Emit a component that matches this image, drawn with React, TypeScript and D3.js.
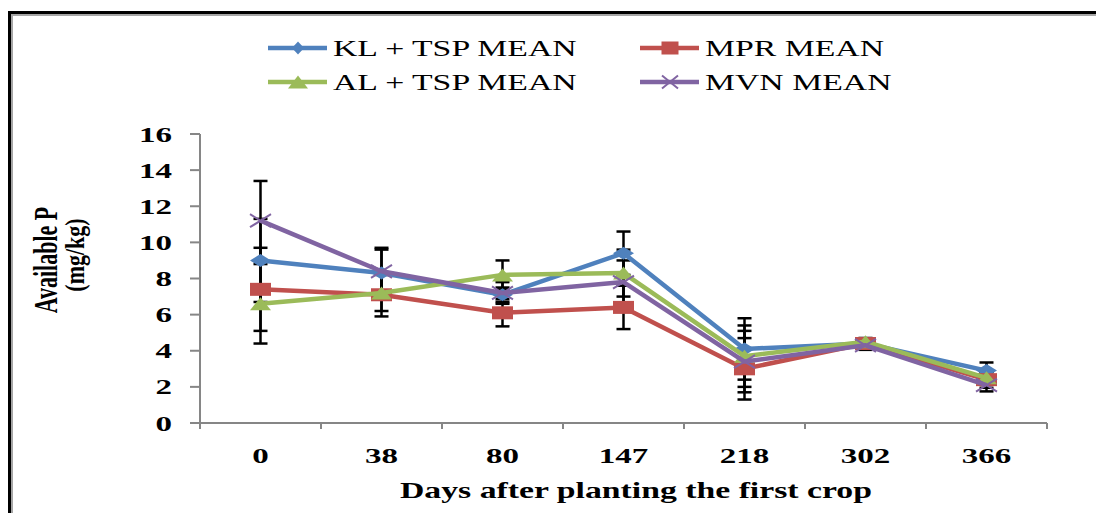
import React from "react";
import * as d3 from "d3";

// Days after planting (category axis)
const DAYS = ["0", "38", "80", "147", "218", "302", "366"];

// Available P means (mg/kg)
const KL_TSP = [9.0, 8.3, 7.1, 9.4, 4.1, 4.4, 2.9];
const MPR = [7.4, 7.1, 6.1, 6.4, 3.0, 4.4, 2.4];
const AL_TSP = [6.6, 7.2, 8.2, 8.3, 3.7, 4.5, 2.5];
const MVN = [11.2, 8.4, 7.2, 7.8, 3.4, 4.3, 2.1];

// Error-bar half widths (mg/kg)
const KL_TSP_ERR = [2.3, 1.3, 0.4, 1.2, 1.7, 0.2, 0.45];
const MPR_ERR = [2.3, 1.2, 0.75, 1.2, 1.7, 0.3, 0.45];
const AL_TSP_ERR = [2.2, 1.0, 0.8, 1.3, 1.7, 0.2, 0.3];
const MVN_ERR = [2.2, 1.3, 0.6, 1.2, 1.7, 0.25, 0.35];

const Y_TICKS = [0, 2, 4, 6, 8, 10, 12, 14, 16];

const SERIES_NAMES = ["KL + TSP MEAN", "MPR MEAN", "AL + TSP MEAN", "MVN MEAN"];

type Shape = "diamond" | "square" | "triangle" | "cross";

const series = [
  { name: SERIES_NAMES[0], values: KL_TSP, err: KL_TSP_ERR, color: "#4F81BD", shape: "diamond" as Shape },
  { name: SERIES_NAMES[1], values: MPR, err: MPR_ERR, color: "#C0504D", shape: "square" as Shape },
  { name: SERIES_NAMES[2], values: AL_TSP, err: AL_TSP_ERR, color: "#9BBB59", shape: "triangle" as Shape },
  { name: SERIES_NAMES[3], values: MVN, err: MVN_ERR, color: "#8064A2", shape: "cross" as Shape },
];

const W = 1096;
const H = 513;
const FONT = "'Liberation Serif', 'Times New Roman', serif";
const SX = 1.5; // horizontal stretch applied to text
const AXIS = "#868686";

const x = d3.scaleBand<string>().domain(DAYS).range([200, 1047]).padding(0);
const y = d3.scaleLinear().domain([0, 16]).range([423, 134]);

function Marker({ shape, cx, cy, w, h, color }: { shape: Shape; cx: number; cy: number; w: number; h: number; color: string }) {
  const hw = w / 2;
  const hh = h / 2;
  if (shape === "diamond") {
    return <path d={`M${cx - hw},${cy}L${cx},${cy - hh}L${cx + hw},${cy}L${cx},${cy + hh}Z`} fill={color} />;
  }
  if (shape === "square") {
    return <rect x={cx - hw} y={cy - hh} width={w} height={h} fill={color} />;
  }
  if (shape === "triangle") {
    return <path d={`M${cx - hw},${cy + hh}L${cx},${cy - hh}L${cx + hw},${cy + hh}Z`} fill={color} />;
  }
  return (
    <path
      d={`M${cx - hw},${cy - hh}L${cx + hw},${cy + hh}M${cx - hw},${cy + hh}L${cx + hw},${cy - hh}`}
      stroke={color}
      strokeWidth={2}
      fill="none"
    />
  );
}

function SText({ x0, y0, anchor = "start", size, weight = "normal", rotate = 0, sx = SX, children }: any) {
  return (
    <text
      transform={`translate(${x0},${y0}) scale(${sx},1)${rotate ? ` rotate(${rotate})` : ""}`}
      textAnchor={anchor}
      fontFamily={FONT}
      fontSize={size}
      fontWeight={weight}
      fill="#000"
    >
      {children}
    </text>
  );
}

export default function App() {
  const cx = (d: string) => (x(d) as number) + x.bandwidth() / 2;
  const line = d3
    .line<number>()
    .x((_, i) => cx(DAYS[i]))
    .y((v) => y(v));

  const xTickPos = DAYS.map((d) => x(d) as number).concat([x.range()[1]]);

  const legendRows = [
    { s: series[0], lx: 268, ty: 48 },
    { s: series[1], lx: 640, ty: 48 },
    { s: series[2], lx: 268, ty: 82 },
    { s: series[3], lx: 640, ty: 82 },
  ];

  return (
    <svg width={W} height={H} style={{ position: "absolute", left: 0, top: 0, background: "#fff" }}>
      {/* frame */}
      <rect x={9.5} y={12.5} width={1200} height={600} fill="none" stroke="#000" strokeWidth={3} />
      <rect x={12} y={15} width={1200} height={600} fill="none" stroke="#a6a6a6" strokeWidth={2} />

      {/* legend */}
      {legendRows.map(({ s, lx, ty }) => (
        <g key={s.name}>
          <line x1={lx} x2={lx + 59} y1={ty} y2={ty} stroke={s.color} strokeWidth={4.5} />
          <Marker
            shape={s.shape}
            cx={lx + 30}
            cy={ty}
            w={s.shape === "diamond" ? 12 : s.shape === "triangle" ? 20 : s.shape === "square" ? 17 : 16}
            h={13}
            color={s.color}
          />
          <SText x0={lx + 65} y0={ty + 8} size={22.5}>
            {s.name}
          </SText>
        </g>
      ))}

      {/* y axis */}
      <line x1={200} x2={200} y1={y(16)} y2={y(0)} stroke={AXIS} strokeWidth={2} />
      {Y_TICKS.map((t) => (
        <g key={t}>
          <line x1={190} x2={200} y1={y(t)} y2={y(t)} stroke={AXIS} strokeWidth={2} />
          <SText x0={172} y0={y(t) + 7.5} anchor="end" size={22} weight="bold">
            {t}
          </SText>
        </g>
      ))}

      {/* x axis */}
      <line x1={190} x2={x.range()[1]} y1={y(0)} y2={y(0)} stroke={AXIS} strokeWidth={2} />
      {xTickPos.map((p, i) => (
        <line key={i} x1={p} x2={p} y1={y(0)} y2={y(0) + 6} stroke={AXIS} strokeWidth={2} />
      ))}
      {DAYS.map((d) => (
        <SText key={d} x0={cx(d)} y0={463} anchor="middle" size={22} weight="bold">
          {d}
        </SText>
      ))}

      {/* axis titles */}
      <SText x0={636} y0={498} anchor="middle" size={22.5} weight="bold">
        Days after planting the first crop
      </SText>
      <SText x0={57} y0={260} anchor="middle" size={22} weight="bold" rotate={-90}>
        Available P
      </SText>
      <SText x0={84} y0={255} anchor="middle" size={22} weight="bold" rotate={-90} sx={1.25}>
        (mg/kg)
      </SText>

      {/* error bars */}
      {series.map((s) =>
        s.values.map((v, i) => {
          const px = cx(DAYS[i]);
          const y1 = y(v + s.err[i]);
          const y2 = y(v - s.err[i]);
          return (
            <g key={`${s.name}-${i}`} stroke="#000" strokeWidth={2.5}>
              <line x1={px} x2={px} y1={y1} y2={y2} />
              <line x1={px - 7} x2={px + 7} y1={y1} y2={y1} />
              <line x1={px - 7} x2={px + 7} y1={y2} y2={y2} />
            </g>
          );
        })
      )}

      {/* series lines and markers */}
      {series.map((s) => (
        <g key={s.name}>
          <path d={line(s.values) || ""} fill="none" stroke={s.color} strokeWidth={4.5} strokeLinejoin="round" />
          {s.values.map((v, i) => (
            <Marker key={i} shape={s.shape} cx={cx(DAYS[i])} cy={y(v)} w={21} h={13} color={s.color} />
          ))}
        </g>
      ))}
    </svg>
  );
}
